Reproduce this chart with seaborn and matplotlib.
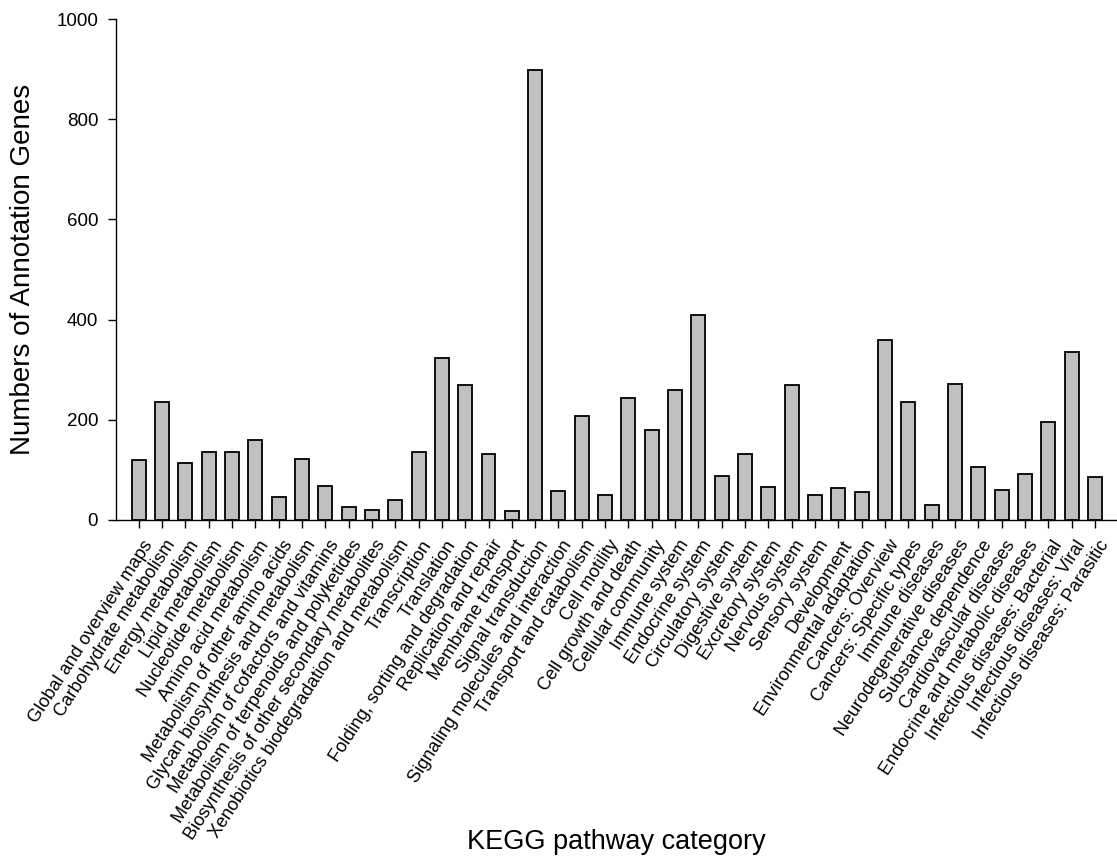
import matplotlib
matplotlib.use("Agg")
import matplotlib.pyplot as plt
import matplotlib.transforms as mtransforms
import seaborn as sns
import pandas as pd

# KEGG level-2 pathway categories and their annotated gene counts
categories = [
    "Global and overview maps",
    "Carbohydrate metabolism",
    "Energy metabolism",
    "Lipid metabolism",
    "Nucleotide metabolism",
    "Amino acid metabolism",
    "Metabolism of other amino acids",
    "Glycan biosynthesis and metabolism",
    "Metabolism of cofactors and vitamins",
    "Metabolism of terpenoids and polyketides",
    "Biosynthesis of other secondary metabolites",
    "Xenobiotics biodegradation and metabolism",
    "Transcription",
    "Translation",
    "Folding, sorting and degradation",
    "Replication and repair",
    "Membrane transport",
    "Signal transduction",
    "Signaling molecules and interaction",
    "Transport and catabolism",
    "Cell motility",
    "Cell growth and death",
    "Cellular community",
    "Immune system",
    "Endocrine system",
    "Circulatory system",
    "Digestive system",
    "Excretory system",
    "Nervous system",
    "Sensory system",
    "Development",
    "Environmental adaptation",
    "Cancers: Overview",
    "Cancers: Specific types",
    "Immune diseases",
    "Neurodegenerative diseases",
    "Substance dependence",
    "Cardiovascular diseases",
    "Endocrine and metabolic diseases",
    "Infectious diseases: Bacterial",
    "Infectious diseases: Viral",
    "Infectious diseases: Parasitic",
]

gene_counts = [
    119, 235, 113, 135, 135, 159, 46, 121, 67, 26, 19, 39,
    135, 324, 270, 132, 17, 898, 57, 207, 50, 243, 179, 260,
    409, 87, 132, 65, 270, 50, 63, 55, 359, 236, 30, 271,
    105, 59, 92, 195, 335, 85,
]

y_ticks = [0, 200, 400, 600, 800, 1000]

df = pd.DataFrame({"category": categories, "genes": gene_counts})

sns.set_style("ticks")
plt.rcParams["font.family"] = ["Liberation Sans", "DejaVu Sans"]
plt.rcParams["text.color"] = "black"
plt.rcParams["axes.labelcolor"] = "black"

W, H = 1117, 860
fig = plt.figure(figsize=(W / 100, H / 100), dpi=100)
ax = fig.add_axes([116 / W, 1 - 520 / H, 1 - 116 / W, (520 - 19) / H])

sns.barplot(
    data=df, x="category", y="genes", ax=ax,
    color="#c0c0c0", saturation=1, width=0.6,
    edgecolor="black", linewidth=1.3,
)

ax.set_ylim(0, 1000)
ax.set_xlim(-0.973, 41.95)
ax.set_yticks(y_ticks)
ax.set_yticklabels([str(t) for t in y_ticks])

sns.despine(ax=ax, top=True, right=True)
for side in ("left", "bottom"):
    ax.spines[side].set_linewidth(1.0)
    ax.spines[side].set_color("black")

ax.tick_params(axis="both", direction="out", length=5.8, width=1.0,
               color="black", labelcolor="black")
ax.tick_params(axis="y", labelsize=13.5, pad=7)
ax.tick_params(axis="x", labelsize=13.1, pad=6.5)

shift = mtransforms.ScaledTranslation(3 / 100, 0, fig.dpi_scale_trans)
for lab in ax.get_xticklabels():
    lab.set_rotation(57)
    lab.set_horizontalalignment("right")
    lab.set_verticalalignment("top")
    lab.set_rotation_mode("anchor")
    lab.set_transform(lab.get_transform() + shift)

ax.set_xlabel("KEGG pathway category", fontsize=19.5)
ax.xaxis.set_label_coords(0.5, (520 - 849.3) / 501)
ax.xaxis.label.set_verticalalignment("baseline")

ax.set_ylabel("Numbers of Annotation Genes", fontsize=20)
ax.yaxis.set_label_coords((23 - 116) / 1001, 0.5)
ax.yaxis.label.set_verticalalignment("center")

fig.savefig("out.png", dpi=100, facecolor="white")
